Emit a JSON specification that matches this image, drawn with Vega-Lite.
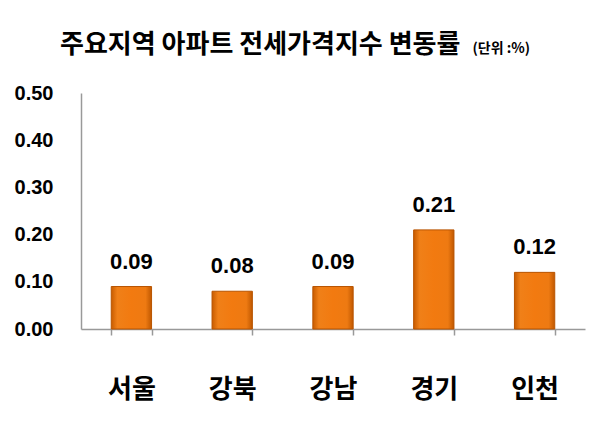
{
  "$schema": "https://vega.github.io/schema/vega-lite/v6.json",
  "autosize": {"type": "none"},
  "padding": {"left": 81, "top": 93, "right": 17, "bottom": 96},
  "width": 504,
  "height": 236,
  "background": "white",
  "config": {"view": {"stroke": null}},
  "title": {
    "text": "주요지역 아파트 전세가격지수 변동률",
    "font": "Noto Sans CJK KR",
    "fontSize": 26,
    "fontWeight": "bold",
    "color": "#000000",
    "anchor": "start",
    "frame": "group",
    "dx": -21,
    "dy": 47,
    "offset": 30
  },
  "data": {
    "values": [
      {"region": "서울", "value": 0.09},
      {"region": "강북", "value": 0.08},
      {"region": "강남", "value": 0.09},
      {"region": "경기", "value": 0.21},
      {"region": "인천", "value": 0.12}
    ]
  },
  "encoding": {
    "x": {
      "field": "region",
      "type": "nominal",
      "sort": null,
      "scale": {"paddingInner": 0.6, "paddingOuter": 0.3},
      "axis": {
        "title": null,
        "labelAngle": 0,
        "labelFont": "Noto Sans CJK KR",
        "labelFontSize": 26,
        "labelFontWeight": "bold",
        "labelColor": "#000000",
        "labelPadding": 41,
        "domainColor": "#999999",
        "domainWidth": 1.5,
        "ticks": true,
        "tickBand": "extent",
        "tickColor": "#999999",
        "tickSize": 6,
        "tickWidth": 1.5,
        "grid": false
      }
    },
    "y": {
      "field": "value",
      "type": "quantitative",
      "scale": {"domain": [0, 0.5], "nice": false},
      "axis": {
        "title": "(단위 :%)",
        "titleFont": "Noto Sans CJK KR",
        "titleFontSize": 14,
        "titleFontWeight": "bold",
        "titleColor": "#000000",
        "titleAngle": 0,
        "titleAlign": "left",
        "titleBaseline": "middle",
        "titleX": 391,
        "titleY": -45,
        "values": [0, 0.1, 0.2, 0.3, 0.4, 0.5],
        "format": ".2f",
        "labelFont": "Liberation Sans",
        "labelFontSize": 20,
        "labelFontWeight": "bold",
        "labelColor": "#000000",
        "labelPadding": 28,
        "ticks": false,
        "grid": false,
        "domainColor": "#999999",
        "domainWidth": 1.5
      }
    }
  },
  "layer": [
    {
      "mark": {
        "type": "bar",
        "stroke": "#B85400",
        "strokeWidth": 1,
        "color": {
          "gradient": "linear",
          "x1": 0, "x2": 1, "y1": 0, "y2": 0,
          "stops": [
            {"offset": 0, "color": "#C85C00"},
            {"offset": 0.15, "color": "#F08018"},
            {"offset": 0.5, "color": "#F27A10"},
            {"offset": 0.85, "color": "#EE7A12"},
            {"offset": 1, "color": "#C05800"}
          ]
        }
      }
    },
    {
      "mark": {
        "type": "text",
        "baseline": "bottom",
        "dy": -13,
        "font": "Liberation Sans",
        "fontSize": 22,
        "fontWeight": "bold",
        "color": "#000000"
      },
      "encoding": {
        "text": {"field": "value", "type": "quantitative", "format": ".2f"}
      }
    }
  ]
}
